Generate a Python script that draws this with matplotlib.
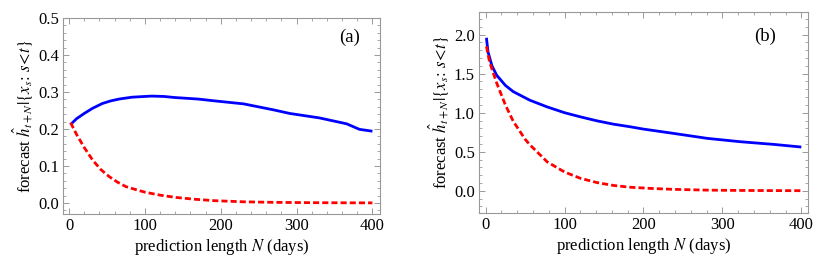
import numpy as np
import matplotlib
matplotlib.use("Agg")
import matplotlib.pyplot as plt
from matplotlib.ticker import MultipleLocator, FormatStrFormatter

plt.rcParams['font.family'] = ['Liberation Serif', 'DejaVu Serif']
plt.rcParams['mathtext.fontset'] = 'stix'

# panel (a)
n_a_blue = [2, 10, 20, 31, 44, 55, 66, 83, 100, 109, 125, 140, 170, 192, 230, 269, 291, 330, 366, 383, 400]
h_a_blue = [0.212, 0.228, 0.242, 0.256, 0.269, 0.276, 0.281, 0.286, 0.288, 0.289, 0.288, 0.285,
            0.281, 0.276, 0.268, 0.252, 0.242, 0.230, 0.214, 0.199, 0.194]
n_a_red = [2, 10, 20, 31, 42, 53, 64, 75, 88, 100, 120, 140, 165, 192, 230, 270, 320, 360, 400]
h_a_red = [0.217, 0.185, 0.150, 0.116, 0.090, 0.071, 0.056, 0.044, 0.036, 0.029, 0.021, 0.015,
           0.010, 0.006, 0.003, 0.0015, 0.0006, 0.0003, 0.0001]

# panel (b)
n_b_blue = [1, 3, 8, 14, 25, 35, 56, 78, 100, 120, 141, 162, 183, 200, 238, 281, 323, 365, 400]
h_b_blue = [1.96, 1.78, 1.60, 1.48, 1.35, 1.27, 1.16, 1.074, 1.00, 0.947, 0.896, 0.853, 0.82,
            0.79, 0.735, 0.671, 0.628, 0.594, 0.56]
n_b_red = [1, 5, 14, 25, 35, 50, 56, 78, 100, 120, 141, 162, 183, 209, 238, 281, 323, 365, 400]
h_b_red = [1.85, 1.65, 1.38, 1.10, 0.89, 0.66, 0.59, 0.37, 0.24, 0.16, 0.105, 0.068, 0.045,
           0.03, 0.018, 0.008, 0.004, 0.002, 0.001]

ylabel = r'forecast $\hat{h}_{t+N}|\{x_s\!:\,s\!<\!t\}$'
xlabel = r'prediction length $N$ (days)'

fig = plt.figure(figsize=(8.17, 2.68), dpi=100)
ax_a = fig.add_axes([0.0771, 0.2015, 0.388, 0.731])
ax_b = fig.add_axes([0.5863, 0.2052, 0.4027, 0.750])


def style(ax, ymaj, ymin):
    for s in ax.spines.values():
        s.set_color('0.6')
        s.set_linewidth(0.8)
    ax.xaxis.set_major_locator(MultipleLocator(100))
    ax.xaxis.set_minor_locator(MultipleLocator(20))
    ax.yaxis.set_major_locator(MultipleLocator(ymaj))
    ax.yaxis.set_minor_locator(MultipleLocator(ymin))
    ax.yaxis.set_major_formatter(FormatStrFormatter('%.1f'))
    ax.tick_params(which='both', direction='in', top=True, right=True, color='0.6',
                   labelsize=12, pad=3)
    ax.tick_params(which='major', length=4, width=0.7)
    ax.tick_params(which='minor', length=2.2, width=0.6)
    ax.set_xlabel(xlabel, fontsize=12, labelpad=2)
    ax.set_ylabel(ylabel, fontsize=12, labelpad=2)


ax_a.plot(n_a_blue, h_a_blue, color='#0000ff', lw=2.0, solid_capstyle='butt')
ax_a.plot(n_a_red, h_a_red, color='#ff0000', lw=2.0, dashes=(2.2, 1.1))
ax_a.set_xlim(-8, 410)
ax_a.set_ylim(-0.03, 0.5)
style(ax_a, 0.1, 0.02)
ax_a.text(0.905, 0.90, '(a)', transform=ax_a.transAxes, fontsize=13.5, ha='center', va='center')

ax_b.plot(n_b_blue, h_b_blue, color='#0000ff', lw=2.0, solid_capstyle='butt')
ax_b.plot(n_b_red, h_b_red, color='#ff0000', lw=2.0, dashes=(2.2, 1.1))
ax_b.set_xlim(-8.4, 408.5)
ax_b.set_ylim(-0.285, 2.29)
style(ax_b, 0.5, 0.1)
ax_b.text(0.87, 0.88, '(b)', transform=ax_b.transAxes, fontsize=13.5, ha='center', va='center')

fig.savefig('out.png', dpi=100)
